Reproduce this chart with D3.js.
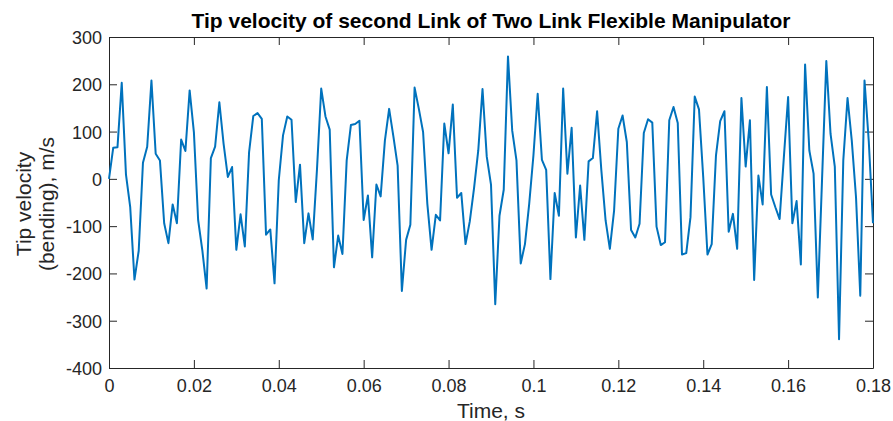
<!DOCTYPE html>
<html>
<head>
<meta charset="utf-8">
<script src="https://cdn.jsdelivr.net/npm/d3@7"></script>
<style>
  body { margin: 0; background: #fff; }
  svg text { font-family: "Liberation Sans", Arial, sans-serif; fill: #262626; }
</style>
</head>
<body>
<div id="chart"></div>
<script>
// tip velocity samples, one every 1 ms
const velocity = [
  0, 66, 67, 203, 9, -60, -213, -152, 34, 68,
  208, 53, 39, -94, -136, -54, -94, 83, 59, 187,
  99, -87, -152, -232, 44, 68, 162, 74, 4, 25,
  -150, -75, -143, 56, 133, 139, 127, -118, -107, -221,
  -3, 92, 132, 125, -49, 30, -136, -73, -128, 20,
  191, 132, 104, -187, -120, -159, 39, 114, 116, 123,
  -87, -35, -166, -12, -37, 81, 148, 90, 28, -237,
  -129, -97, 193, 148, 99, -53, -150, -76, -88, 117,
  54, 157, -40, -30, -138, -90, -20, 60, 190, 47,
  -12, -265, -78, -23, 259, 102, 39, -179, -138, -53,
  50, 180, 40, 19, -212, -30, -78, 191, 11, 108,
  -124, -14, -129, 37, 44, 143, 18, -88, -148, -67,
  106, 134, 78, -108, -124, -95, 97, 126, 119, -101,
  -140, -134, 124, 152, 118, -160, -157, -81, 174, 147,
  4, -160, -138, 49, 122, 143, -112, -74, -148, 171,
  26, 124, -214, 7, -54, 194, -33, -60, -85, 46,
  173, -94, -47, -181, 242, 60, 11, -251, 0, 249,
  95, 26, -339, 39, 171, 81, -39, -247, 208, 80,
  -94
];
const dt = 0.001;
const xTicks = [0, 0.02, 0.04, 0.06, 0.08, 0.1, 0.12, 0.14, 0.16, 0.18];
const yTicks = [-400, -300, -200, -100, 0, 100, 200, 300];

const w = 893, h = 421;
const padL = 109, padR = 873, padT = 37, padB = 368;

const svg = d3.select('#chart').append('svg')
  .attr('width', w)
  .attr('height', h);

const x = d3.scaleLinear().domain([0, 0.18]).range([padL, padR]);
const y = d3.scaleLinear().domain([-400, 300]).range([padB, padT]);

// plain hyphen for negatives, like the original
const fmt = d => String(+d.toFixed(2));

// box with inward ticks on all four sides
const xAxis = d3.axisBottom(x).tickValues(xTicks).tickFormat(fmt)
  .tickSizeInner(-8).tickSizeOuter(0).tickPadding(11);
const yAxis = d3.axisLeft(y).tickValues(yTicks).tickFormat(fmt)
  .tickSizeInner(-8).tickSizeOuter(0).tickPadding(7);

const gx = svg.append('g').attr('transform', 'translate(0,' + padB + ')').call(xAxis);
const gy = svg.append('g').attr('transform', 'translate(' + padL + ',0)').call(yAxis);
const gxTop = svg.append('g').attr('transform', 'translate(0,' + padT + ')')
  .call(d3.axisTop(x).tickValues(xTicks).tickFormat('').tickSizeInner(-8).tickSizeOuter(0));
const gyRight = svg.append('g').attr('transform', 'translate(' + padR + ',0)')
  .call(d3.axisRight(y).tickValues(yTicks).tickFormat('').tickSizeInner(-8).tickSizeOuter(0));

[gx, gy, gxTop, gyRight].forEach(g => {
  g.select('.domain').attr('stroke', '#262626').attr('stroke-width', 1);
  g.selectAll('.tick line').attr('stroke', '#262626');
  g.selectAll('.tick text').attr('font-size', 18).attr('fill', '#262626')
    .attr('font-family', '"Liberation Sans", Arial, sans-serif');
});
gy.selectAll('.tick text').attr('dy', '0.36em');

const line = d3.line()
  .x((d, i) => x(i * dt))
  .y(d => y(d));

svg.append('path')
  .datum(velocity)
  .attr('fill', 'none')
  .attr('stroke', '#0072BD')
  .attr('stroke-width', 2)
  .attr('stroke-linejoin', 'round')
  .attr('d', line);

svg.append('text')
  .attr('x', (padL + padR) / 2)
  .attr('y', 28)
  .attr('text-anchor', 'middle')
  .attr('font-size', 21)
  .attr('font-weight', 'bold')
  .style('fill', '#000')
  .text('Tip velocity of second Link of Two Link Flexible Manipulator');

svg.append('text')
  .attr('x', (padL + padR) / 2)
  .attr('y', 418)
  .attr('text-anchor', 'middle')
  .attr('font-size', 21)
  .text('Time, s');

const ylab = svg.append('text')
  .attr('transform', 'translate(31,204) rotate(-90)')
  .attr('text-anchor', 'middle')
  .attr('font-size', 21);
ylab.append('tspan').attr('x', 0).attr('dy', 0).text('Tip velocity');
ylab.append('tspan').attr('x', 0).attr('dy', 23).text('(bending), m/s');
</script>
</body>
</html>
